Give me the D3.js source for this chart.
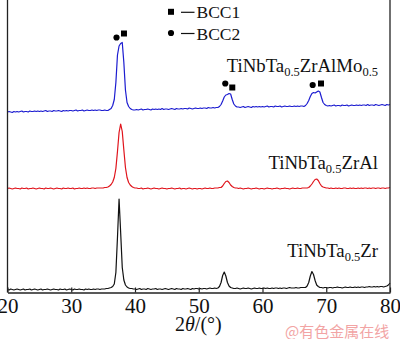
<!DOCTYPE html>
<html>
<head>
<meta charset="utf-8">
<script src="https://cdn.jsdelivr.net/npm/d3@7"></script>
<style>
  html, body { margin: 0; padding: 0; background: #fff; }
  svg { display: block; }
  text { font-family: "Liberation Serif", "Times New Roman", serif; fill: #111; }
</style>
</head>
<body>
<svg id="chart" width="400" height="339"></svg>
<script>
// 2θ grid: 20°–80° at 0.25° steps (241 samples per pattern)
const thetaStart = 20, thetaStep = 0.25;

// XRD intensities (a.u.) for each alloy, one value per grid step
const intensityZr = [
  6,5,7,6,5,6,7,6,5,6,7,5,6,6,7,5,6,7,6,5,
  6,7,5,6,6,7,6,5,6,7,6,6,5,7,6,6,7,5,6,7,
  6,5,7,6,6,7,6,6,5,7,6,7,6,6,7,6,7,7,6,7,
  7,7,8,8,9,10,12,17,40,110,187,120,50,25,15,11,9,8,8,7,
  7,6,7,8,6,7,7,6,8,7,6,7,7,8,6,7,7,6,7,8,
  7,6,7,8,7,6,8,7,7,6,8,7,7,8,7,6,8,7,8,8,
  7,8,7,8,8,7,8,9,8,8,9,8,9,12,20,34,41,33,20,13,
  10,9,8,8,9,8,7,8,9,8,8,9,8,7,8,9,8,8,9,8,
  8,9,8,9,8,8,9,8,9,9,8,9,8,9,9,8,9,10,9,9,
  9,10,9,9,10,10,10,10,13,20,33,42,36,24,15,12,10,10,9,10,
  10,9,10,10,9,10,10,11,10,10,9,10,11,10,10,11,10,10,11,10,
  11,10,11,11,10,11,11,12,11,11,12,11,12,11,12,12,11,12,13,15,
  19
];

const intensityZrAl = [
  8,9,8,7,8,9,8,8,7,9,8,8,9,7,8,8,9,8,7,8,
  9,8,8,7,9,8,8,9,8,7,8,9,8,8,7,9,8,8,9,8,
  8,9,7,8,8,9,8,8,9,8,9,8,8,9,9,8,9,9,9,9,
  9,10,10,11,13,16,21,30,48,82,120,137,122,85,50,30,20,15,12,10,
  9,9,8,8,9,7,8,8,9,8,7,8,9,8,8,7,8,9,8,8,
  7,8,8,9,8,7,8,8,9,7,8,8,7,8,9,8,7,8,8,7,
  8,8,7,8,9,8,8,9,8,8,9,9,9,10,10,13,18,22,23,20,
  15,12,10,9,9,8,9,8,7,8,8,9,8,7,8,8,9,8,7,8,
  8,7,8,9,8,8,7,8,8,9,8,7,8,8,9,8,8,7,8,9,
  8,8,9,8,8,9,9,9,9,10,13,17,22,26,27,24,18,13,11,10,
  9,9,8,9,8,8,9,8,9,8,8,9,9,8,8,9,8,9,8,8,
  9,8,9,8,9,9,8,9,8,9,9,8,9,9,8,9,9,8,9,9,
  10
];

const intensityZrAlMo = [
  11,12,11,10,12,11,12,11,12,13,11,12,12,11,13,12,12,13,12,13,
  12,13,12,13,14,12,13,13,12,14,13,13,14,13,12,14,13,14,13,14,
  14,13,14,15,13,14,14,15,13,14,15,14,14,15,14,15,14,15,15,14,
  14,15,14,14,16,18,24,36,70,125,143,148,150,110,55,30,22,18,16,15,
  15,16,15,16,17,15,16,16,17,16,15,17,16,17,16,17,16,18,16,17,
  17,16,17,18,17,16,18,17,17,18,17,18,18,17,19,18,17,18,19,18,
  18,19,18,19,19,18,20,19,19,20,19,20,20,22,26,33,41,45,46,48,
  47,36,27,23,21,21,20,21,22,20,21,22,21,20,22,21,22,21,22,21,
  22,21,22,23,21,22,22,21,23,22,22,23,21,22,23,22,22,23,22,22,
  23,22,23,22,23,23,22,24,28,34,42,48,50,49,51,53,51,40,30,26,
  24,23,24,23,24,25,23,24,24,23,25,24,24,25,23,24,25,24,24,25,
  24,25,24,25,25,24,26,24,25,25,24,26,25,24,25,26,25,24,26,25,
  26
];

// Phase markers above the TiNbTa0.5ZrAlMo0.5 reflections: [2θ, intensity]
const bcc1Marks = [[38.27, 168], [55.26, 60], [69.18, 68]];
const bcc2Marks = [[37.10, 160], [54.16, 68], [67.87, 65]];

const xTicks = [20, 30, 40, 50, 60, 70, 80];

// ---------------------------------------------------------------
const svg = d3.select("#chart");
const plot = { left: 7.5, right: 390, top: 0, bottom: 292.5 };

const x = d3.scaleLinear().domain([20, 80]).range([plot.left, plot.right]);
const y = d3.scaleLinear().domain([0, 585]).range([plot.bottom, plot.top]);

// Patterns are stacked with a vertical offset in intensity units
const patterns = [
  { values: intensityZr,     shift: 0,   color: "#111111",
    label: [["TiNbTa"], ["0.5", true], ["Zr"]], labelY: 256.5 },
  { values: intensityZrAl,   shift: 200, color: "#e0141c",
    label: [["TiNbTa"], ["0.5", true], ["ZrAl"]], labelY: 169 },
  { values: intensityZrAlMo, shift: 350, color: "#1c1cd0",
    label: [["TiNbTa"], ["0.5", true], ["ZrAlMo"], ["0.5", true]], labelY: 72 }
];

const line = d3.line()
  .x((d, i) => x(thetaStart + i * thetaStep))
  .y(d => d);

patterns.forEach(p => {
  svg.append("path")
    .attr("d", line(p.values.map(v => y(v + p.shift))))
    .attr("fill", "none")
    .attr("stroke", p.color)
    .attr("stroke-width", 1.2)
    .attr("stroke-linejoin", "round");

  const t = svg.append("text")
    .attr("x", 378).attr("y", p.labelY)
    .attr("text-anchor", "end")
    .style("font-size", "18.8px");
  p.label.forEach(([s, sub], k) => {
    const span = t.append("tspan").text(s);
    if (sub) span.style("font-size", "12.5px").attr("dy", 4);
    else span.attr("dy", k > 0 ? -4 : 0);
  });
});

// Phase markers
const markShift = 350;
const sq = d3.symbol().type(d3.symbolSquare).size(36);
const ci = d3.symbol().type(d3.symbolCircle).size(30);
svg.selectAll(".bcc1").data(bcc1Marks).join("path")
  .attr("class", "bcc1")
  .attr("d", sq())
  .attr("transform", d => `translate(${x(d[0])},${y(d[1] + markShift)})`)
  .attr("fill", "#000");
svg.selectAll(".bcc2").data(bcc2Marks).join("path")
  .attr("class", "bcc2")
  .attr("d", ci())
  .attr("transform", d => `translate(${x(d[0])},${y(d[1] + markShift)})`)
  .attr("fill", "#000");

// Legend
const legend = [
  { sym: sq, text: "BCC1", y: 18.3 },
  { sym: ci, text: "BCC2", y: 39.5 }
];
legend.forEach(l => {
  svg.append("path").attr("d", l.sym())
    .attr("transform", `translate(171,${l.y - 6.5})`).attr("fill", "#000");
  svg.append("line").attr("x1", 181).attr("x2", 194.5)
    .attr("y1", l.y - 6).attr("y2", l.y - 6)
    .attr("stroke", "#111").attr("stroke-width", 1.2);
  svg.append("text").attr("x", 196.5).attr("y", l.y)
    .style("font-size", "17.5px").text(l.text);
});

// Frame and axis
const frame = svg.append("g").attr("stroke", "#222").attr("stroke-width", 1.3);
frame.append("line").attr("x1", plot.left).attr("x2", plot.left)
  .attr("y1", plot.top).attr("y2", plot.bottom);
frame.append("line").attr("x1", plot.right).attr("x2", plot.right)
  .attr("y1", plot.top).attr("y2", plot.bottom);

const xAxis = svg.append("g")
  .attr("transform", `translate(0,${plot.bottom})`)
  .call(d3.axisBottom(x).tickValues(xTicks).tickFormat(d3.format("d"))
    .tickSizeInner(-5).tickSizeOuter(0).tickPadding(6));
xAxis.select(".domain").attr("stroke", "#222").attr("stroke-width", 1.3);
xAxis.selectAll(".tick line").attr("stroke", "#222").attr("stroke-width", 1.2);
xAxis.selectAll(".tick text")
  .style("font-family", "'Liberation Serif', 'Times New Roman', serif")
  .style("font-size", "21px").attr("fill", "#111");

// Axis title
const title = svg.append("text").attr("x", 175).attr("y", 331)
  .style("font-size", "20px");
title.append("tspan").text("2");
title.append("tspan").text("θ").style("font-style", "italic");
title.append("tspan").text("/(°)");

// Source mark
svg.append("text").attr("x", 285).attr("y", 336.5)
  .style("font-family", "'Noto Sans CJK SC', sans-serif")
  .style("font-size", "15px").style("fill", "#f2a4a4")
  .text("@有色金属在线");
</script>
</body>
</html>
